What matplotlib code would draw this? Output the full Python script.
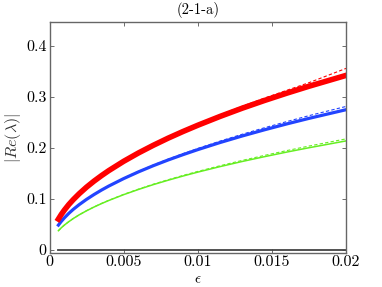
import numpy as np
import matplotlib
matplotlib.use('Agg')
from matplotlib import pyplot as plt

# values
eps = [0.0006, 0.0008, 0.001, 0.0013, 0.0016, 0.002, 0.0025, 0.003, 0.0035,
       0.004, 0.005, 0.006, 0.007, 0.008, 0.009, 0.01, 0.0115, 0.013,
       0.0145, 0.016, 0.0175, 0.02]
red_solid = [0.0605, 0.0698, 0.0780, 0.0890, 0.0986, 0.1102, 0.1232, 0.1349,
             0.1456, 0.1556, 0.1738, 0.1902, 0.2052, 0.2192, 0.2322, 0.2445,
             0.2618, 0.2780, 0.2931, 0.3074, 0.3210, 0.3423]
red_dash = [0.0605, 0.0700, 0.0783, 0.0894, 0.0991, 0.1108, 0.1239, 0.1357,
            0.1465, 0.1566, 0.1750, 0.1916, 0.2068, 0.2210, 0.2342, 0.2470,
            0.2650, 0.2818, 0.2978, 0.3130, 0.3280, 0.3560]
blue_solid = [0.0487, 0.0562, 0.0628, 0.0717, 0.0795, 0.0888, 0.0992, 0.1086,
              0.1173, 0.1253, 0.1399, 0.1531, 0.1652, 0.1764, 0.1868, 0.1967,
              0.2106, 0.2235, 0.2356, 0.2471, 0.2580, 0.2750]
blue_dash = [0.0487, 0.0563, 0.0629, 0.0718, 0.0796, 0.0890, 0.0995, 0.1090,
             0.1177, 0.1259, 0.1407, 0.1542, 0.1665, 0.1780, 0.1888, 0.1990,
             0.2134, 0.2269, 0.2396, 0.2517, 0.2633, 0.2814]
green_solid = [0.0377, 0.0436, 0.0487, 0.0554, 0.0615, 0.0688, 0.0768, 0.0841,
               0.0908, 0.0970, 0.1084, 0.1186, 0.1281, 0.1367, 0.1449, 0.1526,
               0.1634, 0.1735, 0.1829, 0.1919, 0.2004, 0.2138]
green_dash = [0.0377, 0.0436, 0.0487, 0.0555, 0.0616, 0.0689, 0.0770, 0.0843,
              0.0911, 0.0974, 0.1089, 0.1193, 0.1289, 0.1377, 0.1461, 0.1540,
              0.1651, 0.1756, 0.1854, 0.1948, 0.2037, 0.2178]
zero_line = [0.0] * len(eps)

xticks = [0, 0.005, 0.01, 0.015, 0.02]
xticklabels = ['0', '0.005', '0.01', '0.015', '0.02']
yticks = [0, 0.1, 0.2, 0.3, 0.4]
yticklabels = ['0', '0.1', '0.2', '0.3', '0.4']

plt.rcParams['font.family'] = 'serif'
plt.rcParams['font.serif'] = ['cmr10', 'DejaVu Serif']
plt.rcParams['mathtext.fontset'] = 'cm'
plt.rcParams['axes.formatter.use_mathtext'] = True

fig = plt.figure(figsize=(3.82, 2.87), dpi=100)
ax = fig.add_axes([0.1296, 0.1185, 0.7762, 0.8048])

ax.plot(eps, zero_line, color='#444444', lw=1.3)
ax.plot(eps, green_dash, color='#66ee22', lw=0.8, ls=(0, (3, 2)))
ax.plot(eps, green_solid, color='#66ee22', lw=1.1)
ax.plot(eps, blue_dash, color='#2244ff', lw=0.8, ls=(0, (3, 2)))
ax.plot(eps, blue_solid, color='#2244ff', lw=2.3)
ax.plot(eps, red_dash, color='#ff0000', lw=0.8, ls=(0, (3, 2)))
ax.plot(eps, red_solid, color='#ff0000', lw=4.0)

ax.set_xlim(0, 0.02)
ax.set_ylim(-0.006, 0.447)
ax.set_xticks(xticks)
ax.set_xticklabels(xticklabels)
ax.set_yticks(yticks)
ax.set_yticklabels(yticklabels)
ax.tick_params(direction='in', top=True, right=True, length=3, width=0.6,
               color='#555555', labelsize=11.5, pad=2)
for s in ax.spines.values():
    s.set_color('#666666')
    s.set_linewidth(1.0)

ax.set_title('(2-1-a)', fontsize=10.5, pad=6)
ax.set_xlabel(r'$\epsilon$', fontsize=11, labelpad=2)
ax.set_ylabel(r'$|Re(\lambda)|$', fontsize=11.5, labelpad=2, color='#333333')

fig.savefig('out.png', dpi=100)
